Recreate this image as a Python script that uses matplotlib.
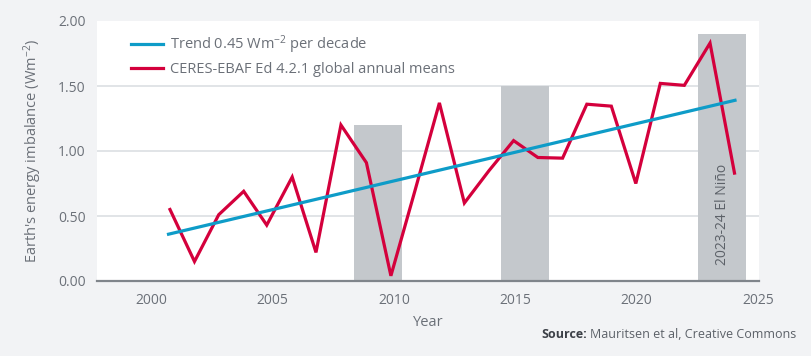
import matplotlib
matplotlib.use("Agg")
import matplotlib.pyplot as plt

# ---- data ----
years = [2001, 2002, 2003, 2004, 2005, 2006, 2007, 2008, 2009, 2010, 2011, 2012,
         2013, 2014, 2015, 2016, 2017, 2018, 2019, 2020, 2021, 2022, 2023, 2024]
x_pos = [2000.76, 2001.77, 2002.77, 2003.80, 2004.75, 2005.80, 2006.78, 2007.81,
         2008.86, 2009.87, 2010.87, 2011.87, 2012.90, 2013.92, 2014.93, 2015.93,
         2016.95, 2017.95, 2018.96, 2019.97, 2020.98, 2021.97, 2023.03, 2024.04]
eei = [0.55, 0.15, 0.51, 0.69, 0.43, 0.80, 0.22, 1.20, 0.91, 0.04, 0.70, 1.37,
       0.60, 0.85, 1.08, 0.95, 0.945, 1.36, 1.345, 0.75, 1.52, 1.505, 1.83, 0.83]
trend_x = [2000.70, 2024.06]
trend_y = [0.36, 1.39]
bar_left = [2008.35, 2014.41, 2022.54]
bar_right = [2010.33, 2016.39, 2024.52]
bar_height = [1.20, 1.50, 1.90]
xticks = [2000, 2005, 2010, 2015, 2020, 2025]
yticks = [0.0, 0.5, 1.0, 1.5, 2.0]

BG = "#f2f3f5"
RED = "#d4003c"
BLUE = "#0e9cc8"
BARC = "#c4c8cc"
GRID = "#dcdfe3"
TXT = "#6b7078"

plt.rcParams["font.family"] = ["Open Sans", "DejaVu Sans"]
plt.rcParams["mathtext.fontset"] = "custom"
plt.rcParams["mathtext.rm"] = "Open Sans"
plt.rcParams["mathtext.it"] = "Open Sans"
plt.rcParams["mathtext.default"] = "rm"

fig = plt.figure(figsize=(8.11, 3.56), dpi=100, facecolor=BG)
ax = fig.add_axes([97 / 811, 1 - 281 / 356, (759 - 97) / 811, (281 - 21) / 356])
ax.set_facecolor("white")

for yv in yticks[1:-1]:
    ax.axhline(yv, color=GRID, lw=1.2, zorder=0)

for l, r, h in zip(bar_left, bar_right, bar_height):
    ax.bar(l, h, width=r - l, align="edge", color=BARC, zorder=1, linewidth=0)

ax.plot(x_pos, eei, color=RED, lw=2.3, zorder=3,
        label="CERES-EBAF Ed 4.2.1 global annual means", solid_joinstyle="miter")
ax.plot(trend_x, trend_y, color=BLUE, lw=2.3, zorder=4,
        label="Trend 0.45 Wm$^{-2}$ per decade")

ax.text(2023.53, 0.12, "2023-24 El Niño", rotation=90, ha="center", va="bottom",
        fontsize=10, color="#5c6168", zorder=5)

ax.set_xlim(1997.75, 2025.05)
ax.set_ylim(0, 2.0)
ax.set_xticks(xticks)
ax.set_yticks(yticks)
ax.set_yticklabels([f"{v:.2f}" for v in yticks])
ax.tick_params(length=0, labelsize=10, colors=TXT, pad=8)
ax.tick_params(axis="x", pad=9)
for s in ["top", "right", "left"]:
    ax.spines[s].set_visible(False)
ax.spines["bottom"].set_color("#80858b")
ax.spines["bottom"].set_linewidth(1.6)

ax.set_xlabel("Year", fontsize=10.5, color=TXT, labelpad=5)
ax.set_ylabel("Earth's energy imbalance (Wm$^{-2}$)", fontsize=10.5, color=TXT, labelpad=10)

h, lab = ax.get_legend_handles_labels()
leg = ax.legend(h[::-1], lab[::-1], loc="upper left", frameon=False, fontsize=10.5,
                handlelength=2.2, handletextpad=0.5, labelspacing=0.45,
                bbox_to_anchor=(0.042, 0.975), borderaxespad=0)
for t in leg.get_texts():
    t.set_color(TXT)

fig.text(796 / 811, 1 - 335 / 356, "Mauritsen et al, Creative Commons", ha="right",
         va="center", fontsize=9, color="#5c6168")
fig.canvas.draw()
src = fig.texts[-1]
bb = src.get_window_extent()
fig.text((bb.x0 - 3) / 811, 1 - 335 / 356, "Source:", ha="right", va="center",
         fontsize=9, color="#3c4047", fontweight="bold")

fig.savefig("out.png", dpi=100, facecolor=BG)
